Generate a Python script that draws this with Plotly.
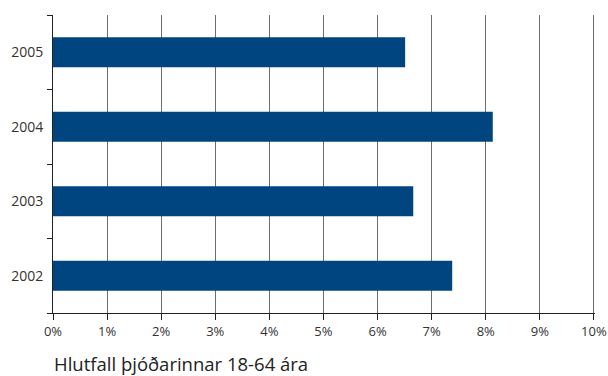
import plotly.graph_objects as go

years = ['2002', '2003', '2004', '2005']
shares = [0.0738, 0.0666, 0.0813, 0.0651]
x_ticks = [i / 100 for i in range(0, 11)]
x_title = 'Hlutfall þjóðarinnar 18-64 ára'

BAR_COLOR = '#00457f'
FONT = 'Open Sans, DejaVu Sans, sans-serif'

fig = go.Figure()
fig.add_trace(go.Bar(
    x=shares,
    y=years,
    orientation='h',
    marker_color=BAR_COLOR,
    marker_line_width=0,
    width=0.4,
    hovertemplate='%{y}: %{x:.1%}<extra></extra>',
))

fig.update_layout(
    width=608,
    height=376,
    margin=dict(l=53, r=13, t=15, b=63),
    paper_bgcolor='white',
    plot_bgcolor='white',
    showlegend=False,
    font=dict(family=FONT, size=13, color='#333333'),
)

fig.update_xaxes(
    range=[0, 0.1002],  # tiny pad so the 10% gridline is drawn
    tickvals=x_ticks,
    tickformat='.0%',
    automargin=False,
    ticklabeloverflow='allow',
    showgrid=True,
    gridcolor='#6e6e6e',
    gridwidth=1,
    zeroline=False,
    showline=True,
    linecolor='#222222',
    linewidth=1,
    ticks='outside',
    ticklen=6,
    tickcolor='#222222',
    tickfont=dict(size=13, color='#333333'),
)

fig.update_yaxes(
    type='category',
    categoryorder='array',
    categoryarray=years,
    range=[-0.5, 3.5],
    automargin=False,
    showgrid=False,
    showline=True,
    linecolor='#222222',
    linewidth=1,
    ticks='outside',
    tickson='boundaries',
    ticklen=5,
    tickcolor='#222222',
    ticklabelstandoff=6,
    tickfont=dict(size=14, color='#333333'),
)

fig.add_annotation(
    text=x_title,
    xref='paper', yref='paper',
    x=0, y=0,
    xanchor='left', yanchor='top',
    yshift=-37,
    borderpad=0,
    showarrow=False,
    font=dict(family=FONT, size=18.5, color='#222222'),
)

# the page body has an 8px default margin; drop it so the figure fills the window
fig.write_html('out.html', config={'displayModeBar': False},
               post_script="document.body.style.margin='0px';")
